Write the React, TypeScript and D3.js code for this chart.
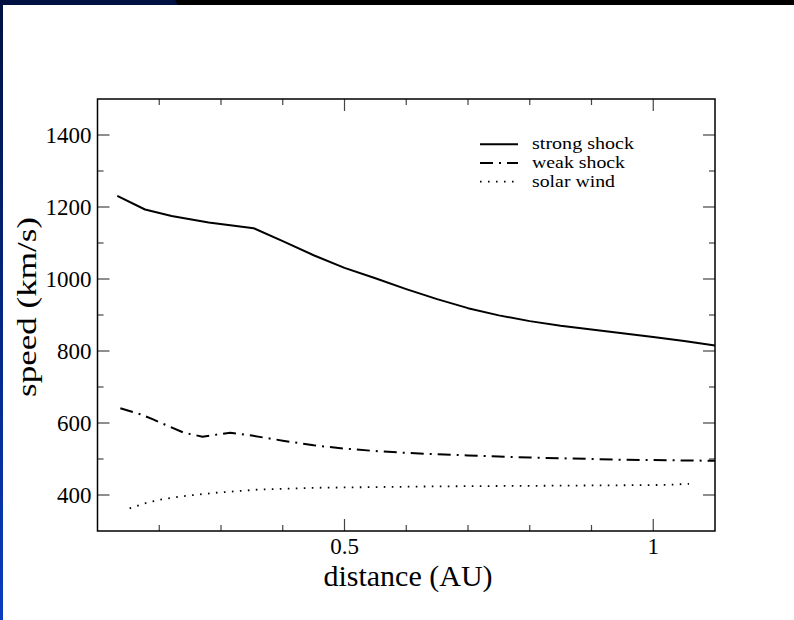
import React from "react";
import * as d3 from "d3";

const strongX = [0.132, 0.177, 0.22, 0.28, 0.353, 0.40, 0.45, 0.50, 0.55, 0.60, 0.65, 0.70, 0.75, 0.80, 0.85, 0.90, 0.95, 1.00, 1.05, 1.10];
const strongY = [1231, 1193, 1175, 1157, 1141, 1105, 1066, 1031, 1002, 972, 944, 919, 899, 883, 870, 860, 849, 839, 828, 815];

const weakX = [0.137, 0.17, 0.19, 0.218, 0.24, 0.27, 0.315, 0.35, 0.40, 0.45, 0.50, 0.55, 0.60, 0.65, 0.70, 0.75, 0.80, 0.85, 0.90, 0.95, 1.00, 1.05, 1.10];
const weakY = [641, 624, 610, 589, 573, 562, 573, 565, 551, 538, 529, 522, 517, 513, 510, 507, 504, 502, 500, 498, 497, 496, 495];

const windX = [0.152, 0.177, 0.204, 0.24, 0.29, 0.36, 0.45, 0.55, 0.65, 0.75, 0.85, 0.95, 1.02, 1.058];
const windY = [363, 377, 388, 397, 406, 415, 420, 422, 424, 425, 426, 427, 428, 431];

const yMajor = [400, 600, 800, 1000, 1200, 1400];
const yMinor = [500, 700, 900, 1100, 1300];
const xMajor = [0.5, 1.0];
const xMajorLabels = ["0.5", "1"];
const xMinor = [0.2, 0.3, 0.4, 0.6, 0.7, 0.8, 0.9];

const legendLabels = ["strong shock", "weak shock", "solar wind"];
const legendLengths = [102, 93, 83];

const W = 794, H = 620;
const L = 97.5, R = 715, T = 99, B = 531;

export default function App() {
  const x = d3.scaleLinear().domain([0.1, 1.1]).range([L, R]);
  const y = d3.scaleLinear().domain([300, 1500]).range([B, T]);
  const line = d3.line<[number, number]>().x(d => x(d[0])).y(d => y(d[1]));
  const strong = line(strongX.map((v, i) => [v, strongY[i]]) as [number, number][]) || "";
  const weak = line(weakX.map((v, i) => [v, weakY[i]]) as [number, number][]) || "";
  const wind = line(windX.map((v, i) => [v, windY[i]]) as [number, number][]) || "";
  const font = "'Liberation Serif', 'Times New Roman', serif";
  const styles = [
    { dash: undefined, w: 2 },
    { dash: "13,6,2,6", w: 2 },
    { dash: "1.6,6.4", w: 1.8 },
  ];
  const tickStroke = "#444";
  return (
    <div style={{ position: "absolute", left: 0, top: 0 }}>
      <svg width={W} height={H} style={{ display: "block" }}>
        <defs>
          <linearGradient id="leftg" x1="0" y1="0" x2="0" y2="1">
            <stop offset="0" stopColor="#001040" />
            <stop offset="1" stopColor="#0a3cc0" />
          </linearGradient>
        </defs>
        <rect x={0} y={0} width={W} height={H} fill="#ffffff" />
        <rect x={0} y={0} width={W} height={5} fill="#000000" />
        <polygon points="0,0 175,0 178,5 0,5" fill="#001040" />
        <rect x={0} y={0} width={3} height={H} fill="url(#leftg)" />

        {/* ticks */}
        <g stroke={tickStroke} strokeWidth={1.2}>
          {yMajor.map(v => (
            <g key={"ym" + v}>
              <line x1={L} x2={L + 12} y1={y(v)} y2={y(v)} />
              <line x1={R} x2={R - 12} y1={y(v)} y2={y(v)} />
            </g>
          ))}
          {yMinor.map(v => (
            <g key={"yn" + v}>
              <line x1={L} x2={L + 6} y1={y(v)} y2={y(v)} />
              <line x1={R} x2={R - 6} y1={y(v)} y2={y(v)} />
            </g>
          ))}
          {xMajor.map(v => (
            <g key={"xm" + v}>
              <line x1={x(v)} x2={x(v)} y1={B} y2={B - 12} />
              <line x1={x(v)} x2={x(v)} y1={T} y2={T + 12} />
            </g>
          ))}
          {xMinor.map(v => (
            <g key={"xn" + v}>
              <line x1={x(v)} x2={x(v)} y1={B} y2={B - 6} />
              <line x1={x(v)} x2={x(v)} y1={T} y2={T + 6} />
            </g>
          ))}
        </g>

        {/* series */}
        <g fill="none" stroke="#000" strokeLinejoin="round">
          <path d={strong} strokeWidth={styles[0].w} />
          <path d={weak} strokeWidth={styles[1].w} strokeDasharray={styles[1].dash} />
          <path d={wind} strokeWidth={styles[2].w} strokeDasharray={styles[2].dash} />
        </g>

        <rect x={L} y={T} width={R - L} height={B - T} fill="none" stroke="#000" strokeWidth={1.5} />

        {/* tick labels */}
        <g fontFamily={font} fontSize={23} fill="#000">
          {yMajor.map(v => (
            <text key={"yl" + v} x={L - 6} y={y(v) + 8} textAnchor="end">{v}</text>
          ))}
          {xMajor.map((v, i) => (
            <text key={"xl" + v} x={x(v)} y={554} textAnchor="middle">{xMajorLabels[i]}</text>
          ))}
        </g>

        <text x={408} y={586} textAnchor="middle" fontFamily={font} fontSize={30}>distance (AU)</text>
        <text transform="translate(36,307) rotate(-90)" textAnchor="middle" fontFamily={font} fontSize={27}
          textLength={180} lengthAdjust="spacingAndGlyphs">speed (km/s)</text>

        {/* legend */}
        <g fontFamily={font} fontSize={17}>
          {legendLabels.map((lab, i) => {
            const ly = 144.3 + i * 18.7;
            return (
              <g key={lab}>
                <line x1={480} x2={518} y1={ly} y2={ly} stroke="#000" strokeWidth={styles[i].w}
                  strokeDasharray={styles[i].dash} />
                <text x={532} y={ly + 5} textLength={legendLengths[i]} lengthAdjust="spacingAndGlyphs">{lab}</text>
              </g>
            );
          })}
        </g>
      </svg>
    </div>
  );
}
